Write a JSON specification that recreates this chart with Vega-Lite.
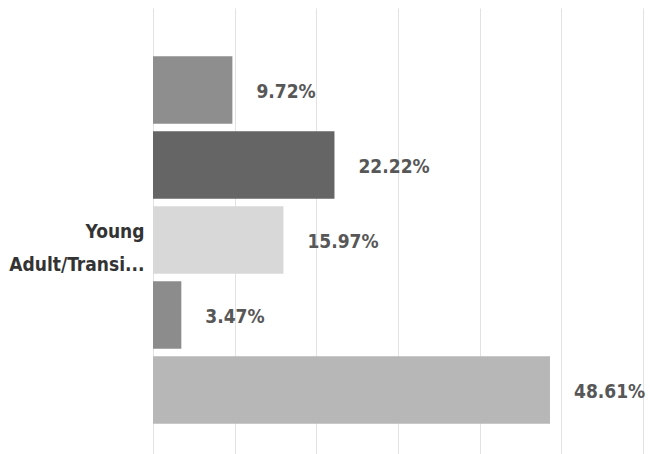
{
  "$schema": "https://vega.github.io/schema/vega-lite/v6.json",
  "width": 490,
  "height": 464,
  "autosize": {"type": "none"},
  "padding": {"left": 153, "top": 8, "right": 7, "bottom": 0},
  "background": "#ffffff",
  "config": {"view": {"stroke": null}},
  "data": {
    "values": [
      {"group": "Young Adult/Transi...", "series": "s1", "pct": 0.0972},
      {"group": "Young Adult/Transi...", "series": "s2", "pct": 0.2222},
      {"group": "Young Adult/Transi...", "series": "s3", "pct": 0.1597},
      {"group": "Young Adult/Transi...", "series": "s4", "pct": 0.0347},
      {"group": "Young Adult/Transi...", "series": "s5", "pct": 0.4861}
    ]
  },
  "encoding": {
    "y": {
      "field": "group",
      "type": "nominal",
      "scale": {"paddingInner": 0, "paddingOuter": 0},
      "axis": {
        "title": null,
        "ticks": false,
        "domain": false,
        "labelPadding": 9,
        "labelFont": "DejaVu Sans Condensed, DejaVu Sans, sans-serif",
        "labelFontWeight": "bold",
        "labelFontSize": 19,
        "labelColor": "#333333",
        "labelLineHeight": 33,
        "labelOffset": -8,
        "labelLimit": 200,
        "labelExpr": "split(datum.value, ' ')"
      }
    },
    "yOffset": {
      "field": "series",
      "type": "nominal",
      "sort": ["s1", "s2", "s3", "s4", "s5"],
      "scale": {"paddingInner": 0.1, "paddingOuter": 0.645}
    },
    "x": {
      "field": "pct",
      "type": "quantitative",
      "scale": {"domain": [0, 0.6], "nice": false},
      "axis": {
        "title": null,
        "labels": false,
        "ticks": false,
        "domain": false,
        "values": [0, 0.1, 0.2, 0.3, 0.4, 0.5, 0.6],
        "gridColor": "#e2e2e2",
        "gridWidth": 1
      }
    }
  },
  "layer": [
    {
      "mark": {"type": "bar"},
      "encoding": {
        "color": {
          "field": "series",
          "type": "nominal",
          "scale": {
            "domain": ["s1", "s2", "s3", "s4", "s5"],
            "range": ["#8e8e8e", "#656565", "#d8d8d8", "#8c8c8c", "#b7b7b7"]
          },
          "legend": null
        }
      }
    },
    {
      "mark": {
        "type": "text",
        "align": "left",
        "baseline": "middle",
        "dx": 24,
        "dy": 2,
        "font": "DejaVu Sans Condensed, DejaVu Sans, sans-serif",
        "fontWeight": "bold",
        "fontSize": 19,
        "color": "#575757"
      },
      "encoding": {
        "text": {"field": "pct", "type": "quantitative", "format": ".2%"}
      }
    }
  ]
}
